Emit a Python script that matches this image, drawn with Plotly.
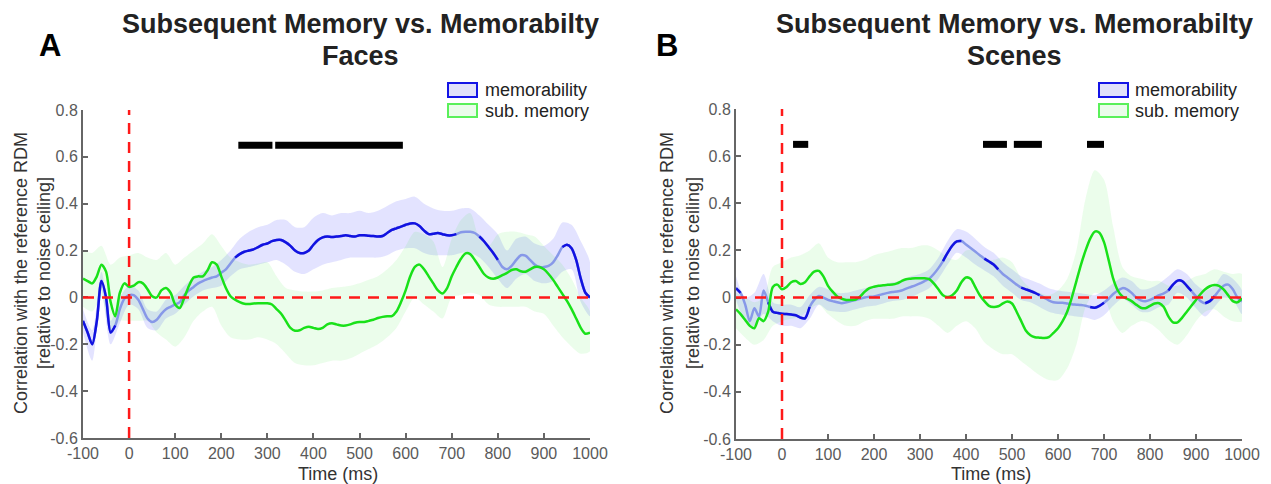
import plotly.graph_objects as go

W, H = 1271, 484
PAGE_OFFSET = 8  # default body margin of the html page

# ---------------- data ----------------
t10 = list(range(-100, 1001, 10))
t20 = list(range(-100, 1001, 20))

faces_mem = [-0.10, -0.15, -0.20, -0.10, 0.07, 0.00, -0.15, -0.12, -0.05, -0.005,
             0.01, 0.01, -0.01, -0.05, -0.09, -0.105, -0.095, -0.07, -0.05, -0.04,
             -0.03, -0.02, 0.01, 0.03, 0.045, 0.06, 0.07, 0.078, 0.085, 0.09,
             0.105, 0.12, 0.145, 0.17, 0.185, 0.195, 0.20, 0.205, 0.215, 0.225,
             0.23, 0.24, 0.245, 0.245, 0.235, 0.22, 0.20, 0.19, 0.19, 0.20,
             0.225, 0.245, 0.256, 0.26, 0.258, 0.26, 0.262, 0.265, 0.262, 0.26,
             0.265, 0.265, 0.263, 0.262, 0.26, 0.262, 0.275, 0.288, 0.295, 0.302,
             0.31, 0.316, 0.316, 0.305, 0.285, 0.27, 0.272, 0.275, 0.27, 0.265,
             0.265, 0.27, 0.278, 0.28, 0.28, 0.275, 0.26, 0.24, 0.215, 0.19,
             0.16, 0.13, 0.12, 0.135, 0.16, 0.18, 0.178, 0.16, 0.14, 0.13,
             0.13, 0.135, 0.15, 0.18, 0.215, 0.225, 0.21, 0.16, 0.08, 0.02, 0.0]
faces_mem_hi = [-0.05, -0.14, 0.11, -0.10, 0.00, 0.05, 0.03, -0.05, -0.06, -0.01,
                0.01, 0.05, 0.085, 0.11, 0.13, 0.16, 0.20, 0.25, 0.28, 0.30,
                0.31, 0.33, 0.33, 0.30, 0.30, 0.34, 0.36, 0.35, 0.36, 0.36,
                0.37, 0.36, 0.37, 0.39, 0.41, 0.42, 0.43, 0.40, 0.38, 0.37,
                0.37, 0.38, 0.38, 0.35, 0.31, 0.27, 0.20, 0.25, 0.26, 0.23,
                0.22, 0.25, 0.32, 0.31, 0.24, 0.15]
faces_mem_lo = [-0.15, -0.27, 0.03, -0.20, -0.11, -0.03, -0.05, -0.13, -0.14, -0.09,
                -0.07, -0.03, 0.005, 0.03, 0.04, 0.05, 0.09, 0.12, 0.13, 0.14,
                0.15, 0.16, 0.14, 0.11, 0.10, 0.12, 0.14, 0.15, 0.16, 0.17,
                0.17, 0.17, 0.17, 0.18, 0.20, 0.21, 0.21, 0.19, 0.18, 0.18,
                0.18, 0.19, 0.19, 0.17, 0.13, 0.08, 0.04, 0.08, 0.10, 0.07,
                0.06, 0.07, 0.11, 0.12, -0.02, -0.08]

faces_sub = [0.08, 0.07, 0.06, 0.09, 0.14, 0.11, -0.02, -0.08, 0.02, 0.06,
             0.045, 0.05, 0.065, 0.06, 0.035, 0.005, 0.0, 0.03, 0.04, 0.02,
             -0.03, -0.045, 0.0, 0.05, 0.085, 0.09, 0.09, 0.115, 0.15, 0.14,
             0.09, 0.04, 0.005, -0.01, -0.02, -0.027, -0.028, -0.026, -0.025, -0.025,
             -0.025, -0.03, -0.05, -0.07, -0.10, -0.13, -0.142, -0.14, -0.13, -0.125,
             -0.13, -0.135, -0.13, -0.115, -0.11, -0.115, -0.12, -0.12, -0.115, -0.108,
             -0.105, -0.105, -0.10, -0.095, -0.088, -0.083, -0.08, -0.08, -0.06, -0.02,
             0.03, 0.09, 0.13, 0.14, 0.12, 0.09, 0.06, 0.03, 0.017, 0.04,
             0.09, 0.13, 0.165, 0.188, 0.185, 0.16, 0.13, 0.10, 0.085, 0.08,
             0.085, 0.095, 0.105, 0.117, 0.12, 0.112, 0.11, 0.12, 0.13, 0.13,
             0.12, 0.10, 0.075, 0.045, 0.015, -0.015, -0.05, -0.09, -0.13, -0.155, -0.15]
faces_sub_hi = [0.20, 0.19, 0.22, 0.14, 0.17, 0.18, 0.19, 0.17, 0.16, 0.19,
                0.14, 0.17, 0.20, 0.23, 0.27, 0.22, 0.17, 0.15, 0.14, 0.145,
                0.15, 0.09, 0.04, 0.03, 0.025, 0.025, 0.03, 0.04, 0.045, 0.05,
                0.06, 0.075, 0.09, 0.12, 0.16, 0.22, 0.28, 0.27, 0.24, 0.13,
                0.25, 0.33, 0.36, 0.25, 0.22, 0.27, 0.28, 0.28, 0.27, 0.26,
                0.22, 0.18, 0.14, 0.08, 0.0, -0.06]
faces_sub_lo = [-0.04, -0.06, 0.0, -0.15, -0.10, -0.10, -0.10, -0.10, -0.15, -0.18,
                -0.21, -0.17, -0.10, -0.06, -0.04, -0.12, -0.17, -0.18, -0.18, -0.17,
                -0.18, -0.20, -0.24, -0.28, -0.29, -0.29, -0.28, -0.27, -0.27, -0.26,
                -0.24, -0.22, -0.20, -0.17, -0.13, -0.06, 0.0, -0.03, -0.06, -0.09,
                0.0, 0.01, 0.02, 0.01, -0.03, -0.04, -0.04, -0.04, -0.04, -0.06,
                -0.07, -0.12, -0.17, -0.21, -0.24, -0.23]

scenes_mem = [0.04, 0.02, -0.03, -0.10, -0.045, -0.08, 0.03, -0.02, -0.06, -0.065,
              -0.069, -0.07, -0.072, -0.075, -0.085, -0.088, -0.04, -0.01, 0.007, 0.0,
              -0.01, -0.015, -0.02, -0.024, -0.02, -0.015, -0.01, -0.005, 0.0, 0.003,
              0.005, 0.01, 0.015, 0.02, 0.024, 0.026, 0.03, 0.038, 0.045, 0.052,
              0.06, 0.07, 0.08, 0.10, 0.125, 0.155, 0.19, 0.22, 0.238, 0.24,
              0.225, 0.21, 0.195, 0.18, 0.165, 0.153, 0.14, 0.12, 0.10, 0.085,
              0.07, 0.055, 0.042, 0.035, 0.028, 0.02, 0.01, 0.0, -0.012, -0.02,
              -0.022, -0.022, -0.025, -0.028, -0.03, -0.032, -0.035, -0.04, -0.043, -0.035,
              -0.022, -0.005, 0.015, 0.03, 0.04, 0.035, 0.02, 0.0, -0.012, -0.016,
              -0.01, 0.0, 0.01, 0.018, 0.03, 0.055, 0.072, 0.07, 0.05, 0.028,
              0.005, -0.015, -0.024, -0.015, 0.005, 0.03, 0.05, 0.055, 0.035, 0.0, -0.017]
scenes_mem_hi = [0.09, 0.0, 0.02, 0.10, -0.02, -0.03, -0.03, -0.04, 0.01, 0.045,
                 0.035, 0.02, 0.02, 0.03, 0.04, 0.045, 0.055, 0.065, 0.07, 0.09,
                 0.10, 0.12, 0.17, 0.24, 0.29, 0.28, 0.25, 0.215, 0.19, 0.15,
                 0.12, 0.09, 0.075, 0.06, 0.04, 0.03, 0.025, 0.02, 0.015, 0.01,
                 0.03, 0.06, 0.085, 0.07, 0.035, 0.04, 0.06, 0.09, 0.12, 0.10,
                 0.055, 0.03, 0.05, 0.10, 0.08, 0.03]
scenes_mem_lo = [-0.01, -0.10, -0.12, -0.07, -0.10, -0.12, -0.12, -0.13, -0.09, -0.03,
                 -0.055, -0.06, -0.06, -0.05, -0.04, -0.035, -0.025, -0.015, -0.01, 0.0,
                 0.02, 0.04, 0.08, 0.14, 0.19, 0.17, 0.14, 0.115, 0.09, 0.05,
                 0.02, -0.01, -0.02, -0.04, -0.06, -0.07, -0.075, -0.08, -0.085, -0.095,
                 -0.075, -0.035, -0.005, -0.03, -0.06, -0.06, -0.04, -0.03, 0.02, 0.0,
                 -0.045, -0.08, -0.04, 0.0, -0.01, -0.07]

scenes_sub = [-0.05, -0.07, -0.095, -0.12, -0.13, -0.088, -0.10, -0.06, 0.045, 0.055,
              0.035, 0.045, 0.065, 0.07, 0.058, 0.065, 0.09, 0.11, 0.113, 0.09,
              0.05, 0.025, 0.005, -0.005, -0.01, -0.01, -0.008, 0.005, 0.025, 0.04,
              0.046, 0.05, 0.052, 0.054, 0.055, 0.06, 0.07, 0.078, 0.08, 0.082,
              0.082, 0.082, 0.078, 0.06, 0.035, 0.01, 0.002, 0.01, 0.03, 0.065,
              0.085, 0.08, 0.045, 0.01, -0.015, -0.035, -0.04, -0.037, -0.025, -0.017,
              -0.025, -0.06, -0.10, -0.14, -0.16, -0.168, -0.17, -0.172, -0.168, -0.15,
              -0.13, -0.10, -0.06, 0.0, 0.07, 0.14, 0.20, 0.25, 0.28, 0.275,
              0.235, 0.16, 0.08, 0.03, 0.005, -0.005, -0.015, -0.03, -0.043, -0.045,
              -0.035, -0.025, -0.024, -0.04, -0.08, -0.105, -0.105, -0.085, -0.06, -0.035,
              -0.01, 0.015, 0.035, 0.048, 0.053, 0.05, 0.035, 0.01, -0.015, -0.02, -0.003]
scenes_sub_hi = [0.02, 0.0, -0.02, 0.0, 0.13, 0.15, 0.17, 0.18, 0.20, 0.23,
                 0.17, 0.15, 0.15, 0.15, 0.16, 0.18, 0.19, 0.20, 0.21, 0.21,
                 0.22, 0.22, 0.20, 0.17, 0.16, 0.20, 0.20, 0.16, 0.16, 0.17,
                 0.15, 0.08, 0.04, 0.02, 0.01, 0.03, 0.08, 0.20, 0.42, 0.54,
                 0.50, 0.30, 0.13, 0.09, 0.08, 0.07, 0.07, 0.05, 0.05, 0.07,
                 0.09, 0.10, 0.12, 0.11, 0.10, 0.10]
scenes_sub_lo = [-0.13, -0.17, -0.20, -0.18, -0.12, -0.10, -0.09, -0.08, -0.05, -0.03,
                 -0.07, -0.10, -0.12, -0.12, -0.10, -0.09, -0.09, -0.09, -0.08, -0.08,
                 -0.08, -0.09, -0.12, -0.15, -0.12, -0.10, -0.13, -0.19, -0.22, -0.24,
                 -0.24, -0.27, -0.30, -0.33, -0.35, -0.35, -0.30, -0.20, -0.04, 0.02,
                 0.0, -0.10, -0.15, -0.12, -0.10, -0.11, -0.14, -0.18, -0.20, -0.16,
                 -0.10, -0.06, -0.05, -0.08, -0.10, -0.10]

# memorability significance (dark line) intervals, ms
faces_mem_sig = [(-100, -30), (230, 710), (760, 800), (940, 1000)]
scenes_mem_sig = [(-100, -90), (-30, 60), (350, 390), (440, 470), (520, 560),
                  (670, 700), (840, 890), (920, 940)]
# significance bars (difference), ms
faces_bars = [(237, 311), (317, 594)]
scenes_bars = [(24, 57), (437, 489), (504, 565), (663, 700)]
bar_level = 0.65

panel_titles = ["Subsequent Memory vs. Memorabilty", "Subsequent Memory vs. Memorabilty"]
panel_subtitles = ["Faces", "Scenes"]
panel_letters = ["A", "B"]
legend_labels = ["memorability", "sub. memory"]
ytick_vals = [-0.6, -0.4, -0.2, 0, 0.2, 0.4, 0.6, 0.8]
ytick_text = ["-0.6", "-0.4", "-0.2", "0", "0.2", "0.4", "0.6", "0.8"]
xtick_vals = list(range(-100, 1001, 100))
xtick_text = ["-100", "0", "100", "200", "300", "400", "500", "600", "700", "800", "900", "1000"]

# ---------------- styles ----------------
DARK_BLUE = "rgb(18,18,225)"
LIGHT_BLUE = "rgb(135,152,232)"
GREEN = "rgb(25,225,25)"
BLUE_BAND = "rgba(40,40,255,0.13)"
GREEN_BAND = "rgba(30,235,30,0.09)"
RED = "rgb(255,25,25)"
AX = "#666666"
FONT = "Liberation Sans, Arial, sans-serif"


def px(x):
    return (x - PAGE_OFFSET) / W


def py(y):
    return 1 - (y - PAGE_OFFSET) / H


def masked(t, v, intervals):
    out = []
    for ti, vi in zip(t, v):
        out.append(vi if any(a <= ti <= b for a, b in intervals) else None)
    return out


fig = go.Figure()

panels = [
    dict(xa="x", ya="y", mem=faces_mem, mhi=faces_mem_hi, mlo=faces_mem_lo,
         sub=faces_sub, shi=faces_sub_hi, slo=faces_sub_lo, sig=faces_mem_sig, bars=faces_bars),
    dict(xa="x2", ya="y2", mem=scenes_mem, mhi=scenes_mem_hi, mlo=scenes_mem_lo,
         sub=scenes_sub, shi=scenes_sub_hi, slo=scenes_sub_lo, sig=scenes_mem_sig, bars=scenes_bars),
]

for p in panels:
    kw = dict(xaxis=p["xa"], yaxis=p["ya"], showlegend=False, hoverinfo="skip")
    fig.add_trace(go.Scatter(x=t20 + t20[::-1], y=p["mhi"] + p["mlo"][::-1], fill="toself",
                             fillcolor=BLUE_BAND, line=dict(width=0, shape="spline", smoothing=0.8),
                             mode="lines", **kw))
    fig.add_trace(go.Scatter(x=t20 + t20[::-1], y=p["shi"] + p["slo"][::-1], fill="toself",
                             fillcolor=GREEN_BAND, line=dict(width=0, shape="spline", smoothing=0.8),
                             mode="lines", **kw))
    fig.add_trace(go.Scatter(x=t10, y=p["mem"], mode="lines",
                             line=dict(color=LIGHT_BLUE, width=2.5, shape="spline", smoothing=0.8), **kw))
    fig.add_trace(go.Scatter(x=t10, y=masked(t10, p["mem"], p["sig"]), mode="lines",
                             line=dict(color=DARK_BLUE, width=2.5, shape="spline", smoothing=0.8),
                             connectgaps=False, **kw))
    fig.add_trace(go.Scatter(x=t10, y=p["sub"], mode="lines",
                             line=dict(color=GREEN, width=2.5, shape="spline", smoothing=0.8), **kw))
    bx, by = [], []
    for a, b in p["bars"]:
        bx += [a, b, None]
        by += [bar_level, bar_level, None]
    fig.add_trace(go.Scatter(x=bx, y=by, mode="lines", line=dict(color="black", width=7), **kw))
    # zero lines
    fig.add_shape(type="line", xref=p["xa"], yref=p["ya"], x0=-100, x1=1000, y0=0, y1=0,
                  line=dict(color=RED, width=2.5, dash="11px,8px"))
    fig.add_shape(type="line", xref=p["xa"], yref=p["ya"], x0=0, x1=0, y0=-0.6, y1=0.8,
                  line=dict(color=RED, width=2.5, dash="11px,8px"))

axis_common = dict(showgrid=False, zeroline=False, showline=True, linecolor=AX, linewidth=2,
                   ticks="inside", ticklen=5, tickwidth=1.5, tickcolor=AX, automargin=False,
                   tickfont=dict(family=FONT, size=16, color="#5a5a5a"), mirror=False)

fig.update_layout(
    width=W, height=H, margin=dict(l=0, r=0, t=0, b=0, autoexpand=False),
    paper_bgcolor="white", plot_bgcolor="white",
    xaxis=dict(domain=[px(83), px(590)], range=[-100, 1000], tickvals=xtick_vals, ticktext=xtick_text,
               anchor="y", **axis_common),
    yaxis=dict(domain=[py(438), py(110)], range=[-0.6, 0.8], tickvals=ytick_vals, ticktext=ytick_text,
               anchor="x", **axis_common),
    xaxis2=dict(domain=[px(736), px(1242)], range=[-100, 1000], tickvals=xtick_vals, ticktext=xtick_text,
                anchor="y2", **axis_common),
    yaxis2=dict(domain=[py(439), py(109)], range=[-0.6, 0.8], tickvals=ytick_vals, ticktext=ytick_text,
                anchor="x2", **axis_common),
)

annotations = []
layout_px = [
    dict(title_x=360, letter_x=50, leg_box=448, leg_text=483, yt1=21, yt2=44, xt=338),
    dict(title_x=1014, letter_x=667, leg_box=1099, leg_text=1133, yt1=667, yt2=693, xt=991),
]
for i, L in enumerate(layout_px):
    annotations.append(dict(x=px(L["title_x"]), y=py(24), xref="paper", yref="paper", text=panel_titles[i],
                            showarrow=False, xanchor="center", yanchor="middle",
                            font=dict(family=FONT, size=27, color="#222222", weight="bold")))
    annotations.append(dict(x=px(L["title_x"]), y=py(56), xref="paper", yref="paper", text=panel_subtitles[i],
                            showarrow=False, xanchor="center", yanchor="middle",
                            font=dict(family=FONT, size=27, color="#222222", weight="bold")))
    annotations.append(dict(x=px(L["letter_x"]), y=py(46), xref="paper", yref="paper", text=panel_letters[i],
                            showarrow=False, xanchor="center", yanchor="middle",
                            font=dict(family=FONT, size=31, color="black", weight="bold")))
    annotations.append(dict(x=px(L["yt1"]), y=py(273), xref="paper", yref="paper",
                            text="Correlation with the reference RDM", textangle=-90,
                            showarrow=False, xanchor="center", yanchor="middle",
                            font=dict(family=FONT, size=18, color="#333333")))
    annotations.append(dict(x=px(L["yt2"]), y=py(273), xref="paper", yref="paper",
                            text="[relative to noise ceiling]", textangle=-90,
                            showarrow=False, xanchor="center", yanchor="middle",
                            font=dict(family=FONT, size=18, color="#333333")))
    annotations.append(dict(x=px(L["xt"]), y=py(474), xref="paper", yref="paper", text="Time (ms)",
                            showarrow=False, xanchor="center", yanchor="middle",
                            font=dict(family=FONT, size=18, color="#333333")))
    # legend
    for j, (lab, edge, fillc) in enumerate([(legend_labels[0], "rgb(20,20,230)", "rgb(225,225,250)"),
                                             (legend_labels[1], "rgb(90,240,90)", "rgb(235,252,235)")]):
        y0, y1 = (83, 97) if j == 0 else (104, 117)
        fig.add_shape(type="rect", xref="paper", yref="paper", x0=px(L["leg_box"]), x1=px(L["leg_box"] + 29),
                      y0=py(y1), y1=py(y0), line=dict(color=edge, width=2), fillcolor=fillc)
        annotations.append(dict(x=px(L["leg_text"]), y=py((y0 + y1) / 2), xref="paper", yref="paper",
                                text=lab, showarrow=False, xanchor="left", yanchor="middle",
                                font=dict(family=FONT, size=18, color="#222222")))

fig.update_layout(annotations=annotations)
fig.write_html("out.html")
